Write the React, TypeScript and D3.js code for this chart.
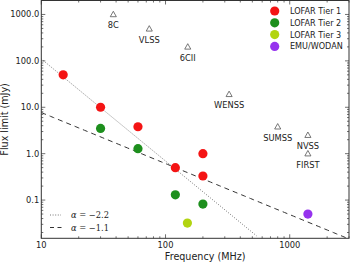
import React from "react";
import * as d3 from "d3";

const tier1Freq = [15, 30, 60, 120, 200, 200];
const tier1Flux = [50, 10, 3.8, 0.5, 1.0, 0.33];
const tier2Freq = [30, 60, 120, 200];
const tier2Flux = [3.5, 1.28, 0.13, 0.082];
const tier3Freq = [150];
const tier3Flux = [0.032];
const emuFreq = [1400];
const emuFlux = [0.05];

const surveyNames = ["8C", "VLSS", "6CII", "WENSS", "SUMSS", "NVSS", "FIRST"];
const surveyFreq = [38, 74, 151, 325, 800, 1400, 1400];
const surveyFlux = [1000, 490, 200, 19, 3.8, 2.5, 1.0];

const yTickValues = [0.1, 1, 10, 100, 1000];
const yTickLabels = ["0.1", "1.0", "10.0", "100.0", "1000.0"];
const xTickValues = [10, 100, 1000];
const xTickLabels = ["10", "100", "1000"];

const slopeSteep = -2.2;
const ampSteep = 110;
const slopeFlat = -1.1;
const ampFlat = 7.7;

const W = 350;
const H = 262;
const m = { left: 41.3, right: 349, top: 0.5, bottom: 238.3 };

export default function App() {
  const x = d3.scaleLog().domain([10, 3000]).range([m.left, m.right]);
  const y = d3.scaleLog().domain([0.015, 2000]).range([m.bottom, m.top]);

  const xMinor: number[] = [];
  for (let d = 10; d < 3000; d *= 10)
    for (let k = 1; k < 10; k++) {
      const v = d * k;
      if (v <= 3000) xMinor.push(v);
    }
  const yMinor: number[] = [];
  for (let d = 0.01; d < 2000; d *= 10)
    for (let k = 1; k < 10; k++) {
      const v = d * k;
      if (v >= 0.015 && v <= 2000) yMinor.push(v);
    }

  const freqs = d3.range(0, 101).map((i) => 10 * Math.pow(300, i / 100));
  const lineGen = d3
    .line<[number, number]>()
    .x((d) => x(d[0]))
    .y((d) => y(d[1]));
  const steep = freqs
    .map((f) => [f, ampSteep * Math.pow(f / 10, slopeSteep)] as [number, number])
    .filter((d) => d[1] >= 0.015);
  const flat = freqs
    .map((f) => [f, ampFlat * Math.pow(f / 10, slopeFlat)] as [number, number])
    .filter((d) => d[1] >= 0.0149);

  const font = "DejaVu Sans, sans-serif";
  const axisColor = "#333";

  const dots = (fs: number[], vs: number[], color: string) =>
    fs.map((f, i) => (
      <circle key={color + i} cx={x(f)} cy={y(vs[i])} r={4.6} fill={color} />
    ));

  const tri = (cx: number, cy: number, s: number) =>
    `M${cx},${cy - s} L${cx + s * 0.95},${cy + s * 0.7} L${cx - s * 0.95},${cy + s * 0.7} Z`;

  const legendItems = [
    { label: "LOFAR Tier 1", color: "#f41414" },
    { label: "LOFAR Tier 2", color: "#1d8f1d" },
    { label: "LOFAR Tier 3", color: "#b2d411" },
    { label: "EMU/WODAN", color: "#9633ee" },
  ];

  return (
    <svg
      width={W}
      height={H}
      style={{ position: "absolute", left: 0, top: 0, background: "#fff" }}
    >
      <defs>
        <clipPath id="plot">
          <rect x={m.left} y={m.top} width={m.right - m.left} height={m.bottom - m.top} />
        </clipPath>
      </defs>
      <rect x={0} y={0} width={W} height={H} fill="#fff" />

      {/* lines */}
      <g clipPath="url(#plot)">
        <path d={lineGen(steep) || ""} fill="none" stroke="#666" strokeWidth={0.9} strokeDasharray="1,1.6" />
        <path d={lineGen(flat) || ""} fill="none" stroke="#333" strokeWidth={1} strokeDasharray="5,4" />
      </g>

      {/* surveys */}
      {surveyNames.map((n, i) => {
        const cx = x(surveyFreq[i]);
        const cy = y(surveyFlux[i]);
        return (
          <g key={n}>
            <path d={tri(cx, cy, 3.2)} fill="none" stroke="#555" strokeWidth={0.8} />
            <text x={cx} y={cy + 14} textAnchor="middle" fontFamily={font} fontSize={8.3} fill="#222">
              {n}
            </text>
          </g>
        );
      })}

      {/* points */}
      {dots(tier1Freq, tier1Flux, legendItems[0].color)}
      {dots(tier2Freq, tier2Flux, legendItems[1].color)}
      {dots(tier3Freq, tier3Flux, legendItems[2].color)}
      {dots(emuFreq, emuFlux, legendItems[3].color)}

      {/* frame */}
      <rect
        x={m.left}
        y={m.top}
        width={m.right - m.left}
        height={m.bottom - m.top}
        fill="none"
        stroke={axisColor}
        strokeWidth={1}
      />
      {/* ticks */}
      {xMinor.map((v, i) => {
        const major = xTickValues.includes(v);
        const len = major ? 4 : 2;
        return (
          <g key={"xm" + i} stroke={axisColor} strokeWidth={0.7}>
            <line x1={x(v)} x2={x(v)} y1={m.bottom} y2={m.bottom - len} />
            <line x1={x(v)} x2={x(v)} y1={m.top} y2={m.top + len} />
          </g>
        );
      })}
      {yMinor.map((v, i) => {
        const major = yTickValues.some((t) => Math.abs(t - v) / t < 1e-6);
        const len = major ? 4 : 2;
        return (
          <g key={"ym" + i} stroke={axisColor} strokeWidth={0.7}>
            <line x1={m.left} x2={m.left + len} y1={y(v)} y2={y(v)} />
            <line x1={m.right} x2={m.right - len} y1={y(v)} y2={y(v)} />
          </g>
        );
      })}
      {xTickValues.map((v, i) => (
        <text key={"xt" + i} x={x(v)} y={m.bottom + 9.5} textAnchor="middle" fontFamily={font} fontSize={8.3} fill="#222">
          {xTickLabels[i]}
        </text>
      ))}
      {yTickValues.map((v, i) => (
        <text key={"yt" + i} x={m.left - 2} y={y(v) + 3} textAnchor="end" fontFamily={font} fontSize={8.3} fill="#222">
          {yTickLabels[i]}
        </text>
      ))}

      {/* axis labels */}
      <text x={(m.left + m.right) / 2 + 10} y={260} textAnchor="middle" fontFamily={font} fontSize={9.6} fill="#222">
        Frequency (MHz)
      </text>
      <text
        transform={`translate(8,${(m.top + m.bottom) / 2}) rotate(-90)`}
        textAnchor="middle"
        fontFamily={font}
        fontSize={9.6}
        fill="#222"
      >
        Flux limit (mJy)
      </text>

      {/* legend points */}
      {legendItems.map((it, i) => (
        <g key={it.label}>
          <circle cx={274.7} cy={11 + i * 11.8} r={4.6} fill={it.color} />
          <text x={290} y={11 + i * 11.8 + 3} fontFamily={font} fontSize={8.1} fill="#222">
            {it.label}
          </text>
        </g>
      ))}

      {/* legend lines */}
      <line x1={50} x2={61} y1={215} y2={215} stroke="#666" strokeWidth={0.9} strokeDasharray="1,1.6" />
      <line x1={50} x2={62} y1={227.5} y2={227.5} stroke="#333" strokeWidth={1} strokeDasharray="4,3.5" />
      <text x={71} y={218} fontFamily="DejaVu Serif, serif" fontSize={8.3} fill="#222">
        <tspan fontStyle="italic">α</tspan> = −2.2
      </text>
      <text x={71} y={230.5} fontFamily="DejaVu Serif, serif" fontSize={8.3} fill="#222">
        <tspan fontStyle="italic">α</tspan> = −1.1
      </text>
    </svg>
  );
}
